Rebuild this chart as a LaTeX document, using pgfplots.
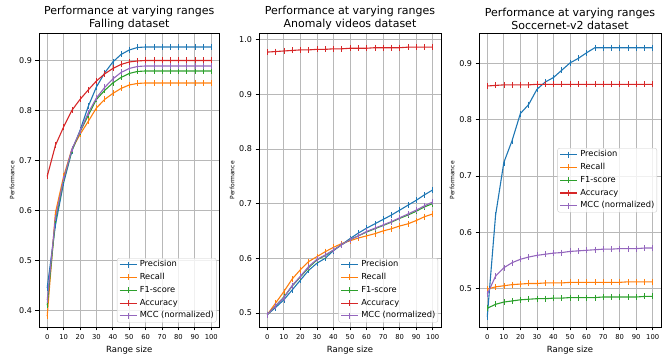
\documentclass[border=0pt]{standalone}
\usepackage{fontspec}
\setmainfont{DejaVu Sans}
\usepackage{pgfplots}
\usepackage{pgfplotstable}
\pgfplotsset{compat=1.18}

\definecolor{tabblue}{HTML}{1F77B4}
\definecolor{taborange}{HTML}{FF7F0E}
\definecolor{tabgreen}{HTML}{2CA02C}
\definecolor{tabred}{HTML}{D62728}
\definecolor{tabpurple}{HTML}{9467BD}

\pgfplotstableread{
x P R F A M
0   0.445 0.388 0.410 0.668 0.420
5   0.570 0.595 0.580 0.730 0.585
10  0.655 0.668 0.660 0.767 0.662
15  0.718 0.722 0.720 0.800 0.722
20  0.760 0.752 0.757 0.822 0.758
25  0.808 0.778 0.790 0.841 0.795
30  0.847 0.805 0.822 0.859 0.825
35  0.875 0.822 0.840 0.873 0.846
40  0.897 0.834 0.855 0.884 0.863
45  0.912 0.844 0.866 0.892 0.876
50  0.921 0.851 0.874 0.897 0.884
55  0.926 0.854 0.878 0.899 0.888
60  0.927 0.855 0.879 0.900 0.889
65  0.927 0.855 0.879 0.900 0.889
70  0.927 0.855 0.879 0.900 0.889
75  0.927 0.855 0.879 0.900 0.889
80  0.927 0.855 0.879 0.900 0.889
85  0.927 0.855 0.879 0.900 0.889
90  0.927 0.855 0.879 0.900 0.889
95  0.927 0.855 0.879 0.900 0.889
100 0.927 0.855 0.879 0.900 0.889
}\falling

\pgfplotstableread{
x P R F A M
0   0.497 0.497 0.497 0.977 0.497
5   0.510 0.518 0.513 0.978 0.513
10  0.524 0.539 0.529 0.979 0.528
15  0.542 0.562 0.549 0.980 0.550
20  0.560 0.579 0.566 0.981 0.567
25  0.578 0.594 0.583 0.981 0.585
30  0.591 0.603 0.597 0.982 0.598
35  0.600 0.612 0.605 0.982 0.606
40  0.614 0.620 0.615 0.983 0.615
45  0.625 0.627 0.625 0.983 0.625
50  0.636 0.632 0.634 0.984 0.634
55  0.646 0.637 0.641 0.984 0.641
60  0.655 0.641 0.648 0.984 0.649
65  0.663 0.645 0.654 0.985 0.655
70  0.671 0.650 0.660 0.985 0.661
75  0.679 0.654 0.666 0.985 0.667
80  0.688 0.659 0.673 0.985 0.674
85  0.697 0.663 0.679 0.986 0.681
90  0.706 0.669 0.686 0.986 0.688
95  0.716 0.676 0.694 0.986 0.696
100 0.725 0.681 0.700 0.986 0.703
}\anomaly

\pgfplotstableread{
x P R F A M
0   0.450 0.499 0.465 0.860 0.490
5   0.630 0.503 0.472 0.861 0.522
10  0.724 0.505 0.476 0.862 0.537
15  0.763 0.507 0.478 0.862 0.546
20  0.811 0.508 0.480 0.862 0.552
25  0.827 0.509 0.481 0.862 0.556
30  0.854 0.509 0.482 0.863 0.559
35  0.867 0.510 0.482 0.863 0.561
40  0.875 0.510 0.483 0.863 0.563
45  0.888 0.510 0.483 0.863 0.564
50  0.901 0.511 0.484 0.863 0.566
55  0.909 0.511 0.484 0.863 0.567
60  0.919 0.511 0.484 0.863 0.568
65  0.928 0.511 0.484 0.863 0.569
70  0.928 0.511 0.485 0.863 0.570
75  0.928 0.511 0.485 0.863 0.570
80  0.928 0.511 0.485 0.863 0.571
85  0.928 0.512 0.485 0.863 0.571
90  0.928 0.512 0.485 0.863 0.571
95  0.928 0.512 0.486 0.863 0.572
100 0.928 0.512 0.486 0.863 0.572
}\soccer

\pgfplotsset{
  panel/.style={
    scale only axis,
    width=182pt, height=293.5pt,
    anchor=south west,
    xmin=-5, xmax=105,
    xtick={0,10,...,100},
    tick pos=left,
    tick align=outside,
    major tick length=3.5pt,
    every tick/.style={black, line width=0.8pt},
    axis line style={line width=0.8pt},
    grid=major,
    major grid style={color=black!28, line width=0.8pt},
    /pgf/number format/assume math mode=true,
    xticklabel style={font=\fontsize{6.8}{8}\selectfont},
    yticklabel style={font=\fontsize{8}{9}\selectfont, /pgf/number format/.cd, fixed, fixed zerofill, precision=1},
    xlabel={Range size},
    ylabel={Performance},
    xlabel style={font=\fontsize{8.5}{10}\selectfont, yshift=0pt},
    ylabel style={font=\fontsize{6}{7}\selectfont, yshift=-2pt},
    title style={font=\fontsize{11}{12.5}\selectfont, align=center, yshift=-5.5pt},
    every axis plot/.append style={line width=1.1pt, mark=|, mark size=3pt, mark options={line width=0.6pt}},
    legend cell align=left,
    legend image post style={opacity=1},
    legend style={font=\fontsize{8.3}{9.5}\selectfont, draw=black!20, fill=white, fill opacity=0.8, text opacity=1, draw opacity=1, rounded corners=2pt, inner sep=2pt, row sep=4pt, column sep=2pt, nodes={inner sep=0.5pt, text height=6pt, text depth=1.8pt}},
  }
}

\begin{document}
\begin{tikzpicture}
\path[use as bounding box] (0pt,0pt) rectangle (663pt,355pt);

\begin{axis}[panel, at={(39pt,28pt)}, width=180.5pt,
  ymin=0.3665, ymax=0.954, ytick={0.4,0.5,...,0.9},
  title={Performance at varying ranges\\Falling dataset},
  legend style={at={(1,0)}, anchor=south east, xshift=-3pt, yshift=4.5pt}]
\addplot[tabblue] table[x=x,y=P]{\falling};
\addplot[taborange] table[x=x,y=R]{\falling};
\addplot[tabgreen] table[x=x,y=F]{\falling};
\addplot[tabred] table[x=x,y=A]{\falling};
\addplot[tabpurple] table[x=x,y=M]{\falling};
\legend{Precision,Recall,F1-score,Accuracy,MCC (normalized)}
\end{axis}

\begin{axis}[panel, at={(259pt,28pt)},
  ymin=0.4744, ymax=1.011, ytick={0.5,0.6,...,1.0},
  title={Performance at varying ranges\\Anomaly videos dataset},
  legend style={at={(1,0)}, anchor=south east, xshift=-3pt, yshift=4.5pt}]
\addplot[tabblue] table[x=x,y=P]{\anomaly};
\addplot[taborange] table[x=x,y=R]{\anomaly};
\addplot[tabgreen] table[x=x,y=F]{\anomaly};
\addplot[tabred] table[x=x,y=A]{\anomaly};
\addplot[tabpurple] table[x=x,y=M]{\anomaly};
\legend{Precision,Recall,F1-score,Accuracy,MCC (normalized)}
\end{axis}

\begin{axis}[panel, at={(479pt,28pt)},
  ymin=0.4317, ymax=0.9533, ytick={0.5,0.6,...,0.9},
  title={Performance at varying ranges\\Soccernet-v2 dataset},
  legend style={at={(1,0.5)}, anchor=east, xshift=-4pt}]
\addplot[tabblue] table[x=x,y=P]{\soccer};
\addplot[taborange] table[x=x,y=R]{\soccer};
\addplot[tabgreen] table[x=x,y=F]{\soccer};
\addplot[tabred] table[x=x,y=A]{\soccer};
\addplot[tabpurple] table[x=x,y=M]{\soccer};
\legend{Precision,Recall,F1-score,Accuracy,MCC (normalized)}
\end{axis}
\end{tikzpicture}
\end{document}
